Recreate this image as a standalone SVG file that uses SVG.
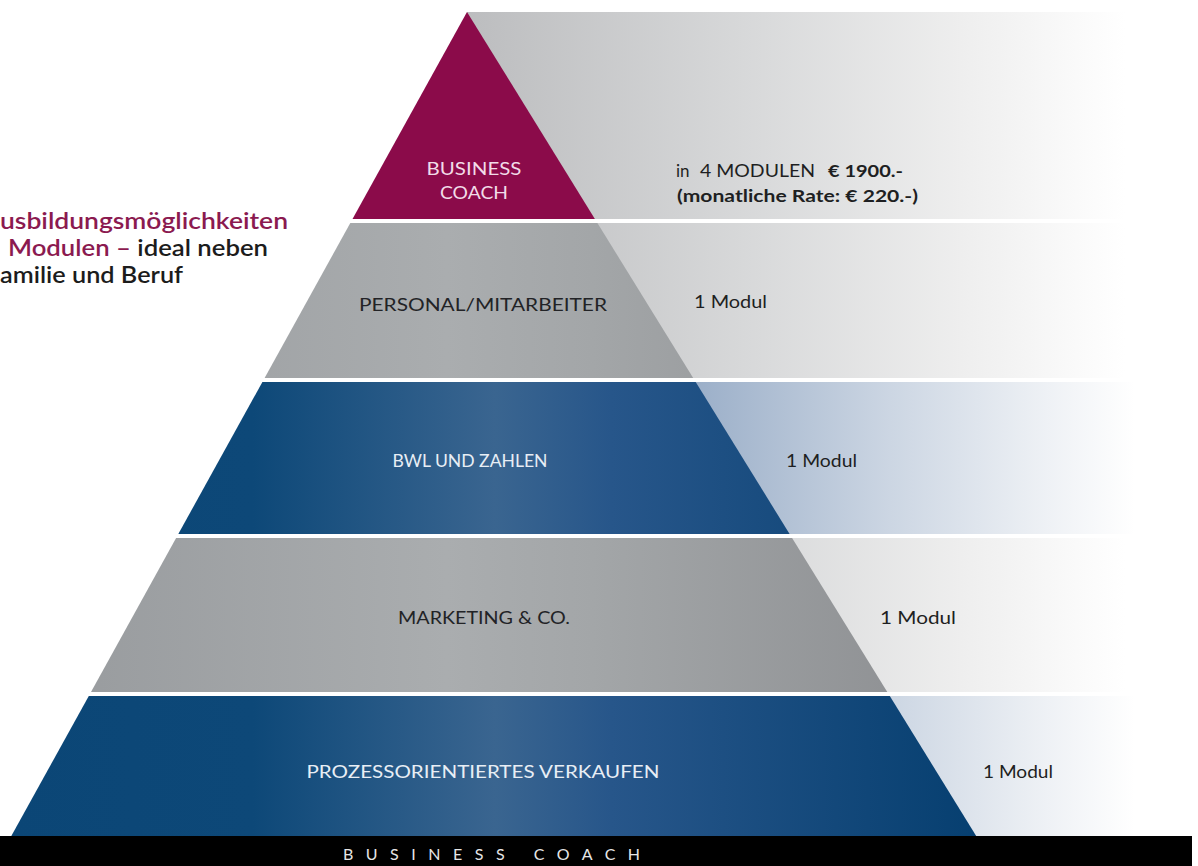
<svg xmlns="http://www.w3.org/2000/svg" width="1198" height="866" viewBox="0 0 1198 866">
<style>
  text { font-family: Lato, "Open Sans", "Liberation Sans", sans-serif; }
  .lbl { font-size: 18px; text-anchor: middle; }
  .dark { fill: #222326; }
  .light { fill: #e8eef5; }
  .mod { font-size: 18px; fill: #1e1f22; }
  .intro { font-size: 23px; font-weight: 600; }
</style>
<defs>
  <linearGradient id="gPanel" gradientUnits="userSpaceOnUse" x1="467" y1="0" x2="1125" y2="0">
    <stop offset="0" stop-color="#bcbdbf"/>
    <stop offset="0.45" stop-color="#d9dadb"/>
    <stop offset="0.75" stop-color="#eeeeee"/>
    <stop offset="1" stop-color="#ffffff"/>
  </linearGradient>
  <linearGradient id="bPanel" gradientUnits="userSpaceOnUse" x1="690" y1="0" x2="1135" y2="0">
    <stop offset="0" stop-color="#9aaec8"/>
    <stop offset="0.45" stop-color="#ccd6e3"/>
    <stop offset="0.8" stop-color="#eef1f5"/>
    <stop offset="1" stop-color="#ffffff"/>
  </linearGradient>
  <linearGradient id="gBand" gradientUnits="userSpaceOnUse" x1="10" y1="0" x2="980" y2="0">
    <stop offset="0" stop-color="#96999c"/>
    <stop offset="0.45" stop-color="#aaadaf"/>
    <stop offset="0.6" stop-color="#a3a6a8"/>
    <stop offset="1" stop-color="#8b8d90"/>
  </linearGradient>
  <linearGradient id="bBand" gradientUnits="userSpaceOnUse" x1="10" y1="0" x2="980" y2="0">
    <stop offset="0" stop-color="#0b4676"/>
    <stop offset="0.25" stop-color="#0d4878"/>
    <stop offset="0.5" stop-color="#3a6590"/>
    <stop offset="0.62" stop-color="#27568a"/>
    <stop offset="1" stop-color="#063f70"/>
  </linearGradient>
</defs>
<rect width="1198" height="866" fill="#ffffff"/>

<!-- right-hand panels -->
<g id="panels">
  <rect x="467" y="12" width="731" height="207" fill="url(#gPanel)"/>
  <rect x="467" y="223" width="731" height="155" fill="url(#gPanel)"/>
  <rect x="467" y="382" width="731" height="152" fill="url(#bPanel)"/>
  <rect x="467" y="538" width="731" height="154" fill="url(#gPanel)"/>
  <rect x="467" y="696" width="731" height="140" fill="url(#bPanel)"/>
</g>

<g id="intro">
  <text class="intro" x="0" y="229" fill="#8b1a50" textLength="288" lengthAdjust="spacingAndGlyphs">usbildungsmöglichkeiten</text>
  <text class="intro" x="8" y="256" textLength="260" lengthAdjust="spacingAndGlyphs"><tspan fill="#8b1a50">Modulen –</tspan><tspan fill="#1c1c1c"> ideal neben</tspan></text>
  <text class="intro" x="0" y="283" fill="#1c1c1c" textLength="183" lengthAdjust="spacingAndGlyphs">amilie und Beruf</text>
</g>

<g id="level-business-coach">
  <polygon points="467,12 594.9,219 352.5,219" fill="#8b0b4a"/>
  <text class="lbl" x="474" y="175" fill="#f2dce8" textLength="95" lengthAdjust="spacingAndGlyphs">BUSINESS</text>
  <text class="lbl" x="474" y="199" fill="#f2dce8" textLength="68" lengthAdjust="spacingAndGlyphs">COACH</text>
  <text x="676" y="177" font-size="17" fill="#1e1f22">in<tspan x="700" textLength="115" lengthAdjust="spacingAndGlyphs">4 MODULEN</tspan><tspan x="828" font-weight="bold" textLength="75" lengthAdjust="spacingAndGlyphs">€ 1900.-</tspan></text>
  <text x="677" y="202" font-size="17" font-weight="bold" fill="#1e1f22" textLength="241" lengthAdjust="spacingAndGlyphs">(monatliche Rate: € 220.-)</text>
</g>

<g id="level-personal">
  <polygon points="350.3,223 597.4,223 693.2,378 264.6,378" fill="url(#gBand)"/>
  <text class="lbl dark" x="483" y="311" textLength="248" lengthAdjust="spacingAndGlyphs">PERSONAL/MITARBEITER</text>
  <text class="mod" x="694" y="308" textLength="73" lengthAdjust="spacingAndGlyphs">1 Modul</text>
</g>

<g id="level-bwl">
  <polygon points="262.4,382 695.7,382 789.6,534 178.3,534" fill="url(#bBand)"/>
  <text class="lbl light" x="470" y="467" textLength="155" lengthAdjust="spacingAndGlyphs">BWL UND ZAHLEN</text>
  <text class="mod" x="786" y="467" textLength="71" lengthAdjust="spacingAndGlyphs">1 Modul</text>
</g>

<g id="level-marketing">
  <polygon points="176.1,538 792.1,538 887.3,692 91,692" fill="url(#gBand)"/>
  <text class="lbl dark" x="484" y="624" textLength="172" lengthAdjust="spacingAndGlyphs">MARKETING &amp; CO.</text>
  <text class="mod" x="880" y="624" textLength="76" lengthAdjust="spacingAndGlyphs">1 Modul</text>
</g>

<g id="level-verkaufen">
  <polygon points="88.8,696 889.8,696 976.2,836 11.3,836" fill="url(#bBand)"/>
  <text class="lbl light" x="483" y="778" textLength="353" lengthAdjust="spacingAndGlyphs">PROZESSORIENTIERTES VERKAUFEN</text>
  <text class="mod" x="983" y="778" textLength="70" lengthAdjust="spacingAndGlyphs">1 Modul</text>
</g>

<g id="footer">
  <rect x="0" y="836" width="1192" height="30" fill="#000000"/>
  <text x="343" y="860" font-size="16" letter-spacing="12.5" fill="#e6e6e6" font-family="'Liberation Sans', sans-serif">BUSINESS COACH</text>
</g>
</svg>
